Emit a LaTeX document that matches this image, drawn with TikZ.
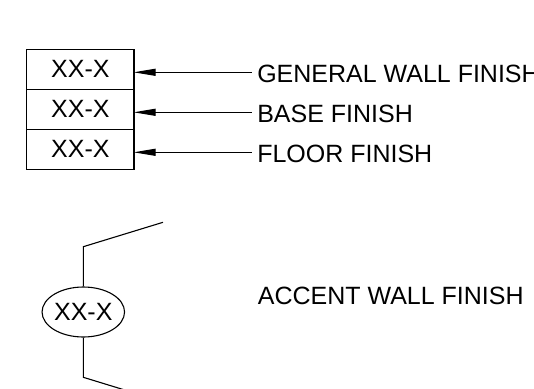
\documentclass[tikz,border=0pt]{standalone}
\usepackage{fontspec}
\setmainfont{Liberation Sans}
\usetikzlibrary{arrows.meta,shapes.geometric}
\begin{document}
\begin{tikzpicture}[x=1pt,y=-1pt,
  line width=1.1pt,
  tagbox/.style={draw,rectangle,minimum width=107.3pt,minimum height=40pt,inner sep=0pt,font=\fontsize{25}{25}\selectfont},
  tagoval/.style={draw,ellipse,minimum width=81pt,minimum height=50pt,inner sep=0pt,font=\fontsize{25}{25}\selectfont},
  lbl/.style={anchor=base west,inner sep=0pt,font=\fontsize{25}{25}\selectfont},
  leader/.style={-{Triangle[length=22pt,width=7pt]},shorten >=-1pt}]
\useasboundingbox (0,0) rectangle (534,388);
\clip (0,0) rectangle (534,388);
% stacked tag
\node[tagbox] (b1) at (80.35,69.3) {XX-X};
\node[tagbox] (b2) at (80.35,109.3) {XX-X};
\node[tagbox] (b3) at (80.35,149.3) {XX-X};
% labels
\node[lbl] (t1) at (256.7,82.3) {GENERAL WALL FINISH};
\node[lbl] (t2) at (256.7,122.3) {BASE FINISH};
\node[lbl] (t3) at (256.7,162.3) {FLOOR FINISH};
\coordinate (c1) at (251.7,72.3);
\coordinate (c2) at (251.7,112.3);
\coordinate (c3) at (251.7,152.3);
\draw[leader] (c1) -- (c1 -| b1.east);
\draw[leader] (c2) -- (c2 -| b2.east);
\draw[leader] (c3) -- (c3 -| b3.east);
% accent tag
\node[tagoval] (e) at (83.3,312) {XX-X};
\node[lbl] (t4) at (257.3,304.3) {ACCENT WALL FINISH};
\coordinate (k1) at (83.3,246.7);
\coordinate (k2) at (163,222.3);
\coordinate (k3) at (83.3,377.3);
\coordinate (k4) at (163,401.7);
\draw (e.north) -- (k1) -- (k2);
\draw (e.south) -- (k3) -- (k4);
\end{tikzpicture}
\end{document}
